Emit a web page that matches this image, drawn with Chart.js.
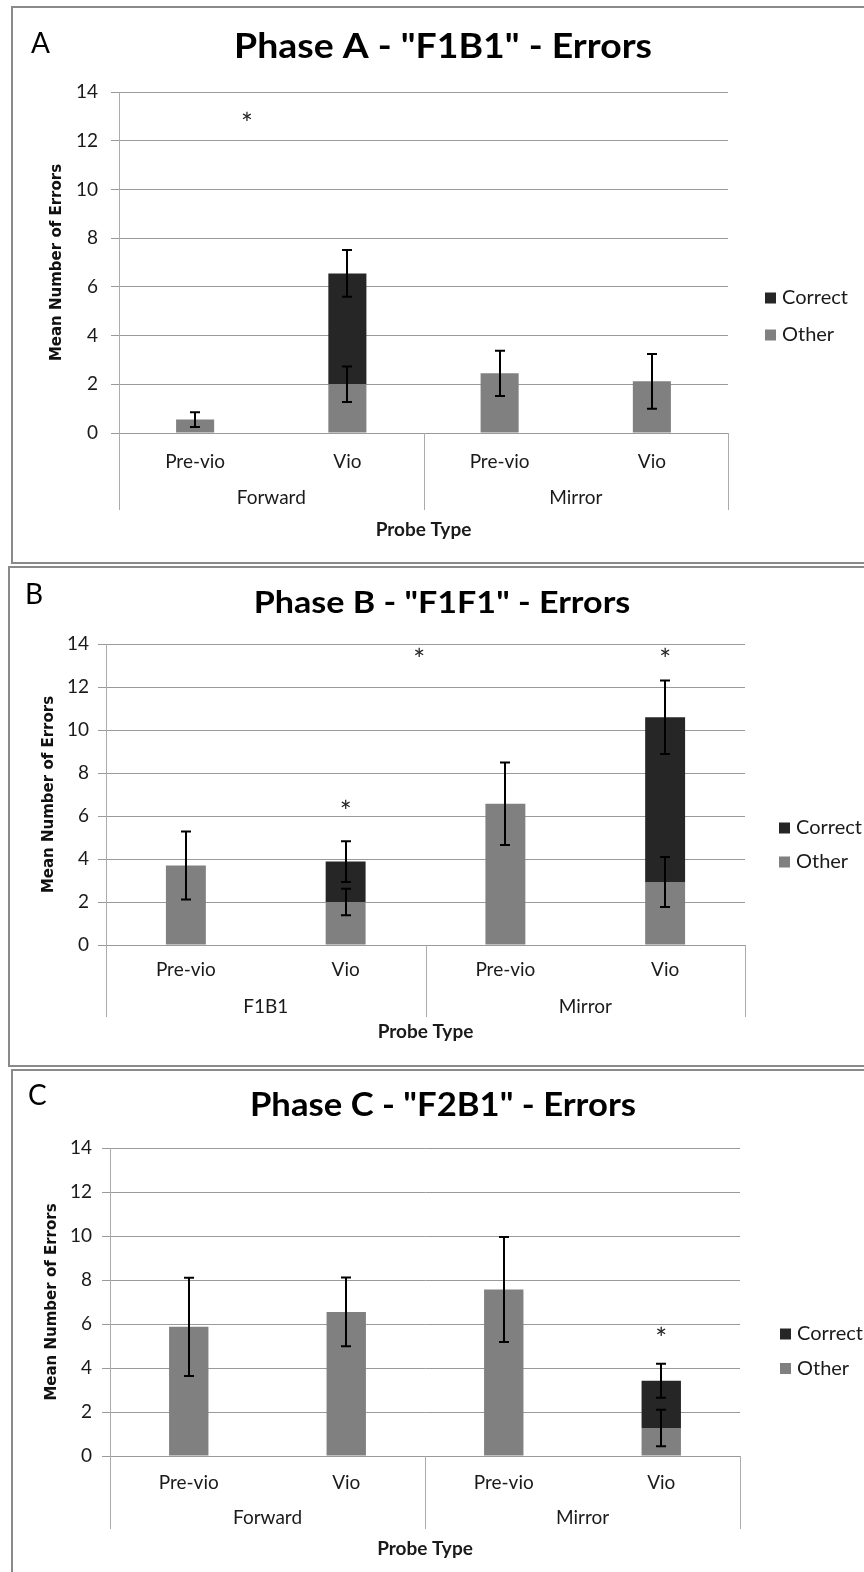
<!DOCTYPE html>
<html>
<head>
<meta charset="utf-8">
<script src="https://cdn.jsdelivr.net/npm/chart.js@4.4.1/dist/chart.umd.min.js"></script>
<style>
  html, body { margin: 0; padding: 0; background: #fff; overflow: hidden; width: 864px; height: 1572px; }
  .panel { position: absolute; border: 2px solid #8a8a8a; border-right: none; box-sizing: border-box; }
  canvas { position: absolute; left: 0; z-index: 2; }
</style>
</head>
<body>
<div class="panel" style="left:11px;top:6px;width:870px;height:558px"></div>
<div class="panel" style="left:8px;top:566px;width:870px;height:501px"></div>
<div class="panel" style="left:11px;top:1069px;width:870px;height:520px"></div>
<canvas id="chartA" width="864" height="564" style="top:0"></canvas>
<canvas id="chartB" width="864" height="503" style="top:564px"></canvas>
<canvas id="chartC" width="864" height="505" style="top:1067px"></canvas>

<script>
// shared
const categories = ['Pre-vio', 'Vio', 'Pre-vio', 'Vio'];
const yMin = 0, yMax = 14, yStep = 2;
const otherLabel = 'Other';
const correctLabel = 'Correct';

// Phase A
const titleA = 'Phase A - "F1B1" - Errors';
const groupsA = ['Forward', 'Mirror'];
const otherA = [0.55, 2.0, 2.45, 2.12];
const otherErrA = [0.3, 0.73, 0.93, 1.12];
const correctA = [null, 4.55, null, null];
const correctErrA = [null, 0.96, null, null];
const starsA = [[0.34, 12.93]];

// Phase B
const titleB = 'Phase B - "F1F1" - Errors';
const groupsB = ['F1B1', 'Mirror'];
const otherB = [3.7, 2.0, 6.57, 2.93];
const otherErrB = [1.58, 0.62, 1.92, 1.16];
const correctB = [null, 1.88, null, 7.66];
const correctErrB = [null, 0.95, null, 1.71];
const starsB = [[1.46, 13.52], [3, 13.55], [1, 6.48]];

// Phase C
const titleC = 'Phase C - "F2B1" - Errors';
const groupsC = ['Forward', 'Mirror'];
const otherC = [5.87, 6.55, 7.57, 1.27];
const otherErrC = [2.23, 1.56, 2.39, 0.83];
const correctC = [null, null, null, 2.15];
const correctErrC = [null, null, null, 0.77];
const starsC = [[3, 5.6]];

const GRID = '#9a9a9a';
const AXIS = '#ababab';
const TEXT = '#1a1a1a';
const BODY_FONT = 'Lato';

// draws error bars, title, legend, groups, dividers and asterisks
const extras = {
  id: 'extras',
  afterDatasetsDraw(chart, args, o) {
    const ctx = chart.ctx, ys = chart.scales.y;
    const sets = chart.data.datasets;
    ctx.save();
    ctx.strokeStyle = '#000';
    ctx.lineWidth = 2;
    sets.forEach((ds, i) => {
      const meta = chart.getDatasetMeta(i);
      ds.errors.forEach((e, j) => {
        if (e == null || ds.data[j] == null) return;
        let cum = 0;
        for (let k = 0; k <= i; k++) cum += sets[k].data[j] || 0;
        const x = Math.round(meta.data[j].x);
        const y1 = ys.getPixelForValue(cum + e), y2 = ys.getPixelForValue(cum - e);
        ctx.beginPath();
        ctx.moveTo(x, y1); ctx.lineTo(x, y2);
        ctx.moveTo(x - 5, y1); ctx.lineTo(x + 5, y1);
        ctx.moveTo(x - 5, y2); ctx.lineTo(x + 5, y2);
        ctx.stroke();
      });
    });
    ctx.restore();
  },
  afterDraw(chart, args, o) {
    const ctx = chart.ctx, xs = chart.scales.x, ys = chart.scales.y;
    const y0 = ys.getPixelForValue(0);
    ctx.save();

    // panel letter
    ctx.fillStyle = '#000';
    ctx.font = '28px ' + BODY_FONT;
    ctx.textAlign = 'left';
    ctx.textBaseline = 'alphabetic';
    ctx.fillText(o.letter, o.letterX, o.letterY);

    // title (stretched a little, the original face is wider)
    ctx.save();
    ctx.translate(o.titleX, o.titleY);
    ctx.scale(1.1, 1);
    ctx.font = 'bold ' + o.titleSize + 'px ' + BODY_FONT;
    ctx.textAlign = 'center';
    ctx.fillText(o.title, 0, 0);
    ctx.restore();

    // category dividers below the axis
    ctx.strokeStyle = AXIS;
    ctx.lineWidth = 1;
    [xs.left, xs.getPixelForValue(1.5), xs.right].forEach(px => {
      const x = Math.round(px) + 0.5;
      ctx.beginPath();
      ctx.moveTo(x, y0);
      ctx.lineTo(x, y0 + o.divLen);
      ctx.stroke();
    });

    // group labels
    ctx.fillStyle = TEXT;
    ctx.font = '19px ' + BODY_FONT;
    ctx.textAlign = 'center';
    ctx.textBaseline = 'middle';
    o.groups.forEach((g, i) => {
      ctx.fillText(g, xs.getPixelForValue(i * 2 + 0.5), y0 + o.groupDy);
    });

    // asterisks
    ctx.fillStyle = '#222';
    ctx.font = '28px ' + BODY_FONT;
    o.stars.forEach(s => {
      ctx.fillText('*', xs.getPixelForValue(s[0]), ys.getPixelForValue(s[1]) + 7);
    });

    // legend
    const items = chart.data.datasets.slice().reverse();
    ctx.textAlign = 'left';
    ctx.font = '20px ' + BODY_FONT;
    items.forEach((ds, i) => {
      const cy = o.legendY + i * o.legendGap;
      ctx.fillStyle = ds.backgroundColor;
      ctx.fillRect(o.legendX, cy - 5.5, 11, 11);
      ctx.fillStyle = TEXT;
      ctx.fillText(ds.label, o.legendX + 17, cy);
    });
    ctx.restore();
  }
};

function makeChart(id, h, d, p) {
  const X_H = 110;
  return new Chart(document.getElementById(id), {
    type: 'bar',
    data: {
      labels: categories,
      datasets: [
        { label: otherLabel, data: d.other, errors: d.otherErr, backgroundColor: '#808080',
          barPercentage: 0.25, categoryPercentage: 1.0 },
        { label: correctLabel, data: d.correct, errors: d.correctErr, backgroundColor: '#262626',
          barPercentage: 0.25, categoryPercentage: 1.0 }
      ]
    },
    options: {
      responsive: false,
      animation: false,
      devicePixelRatio: 1,
      layout: {
        padding: { left: 0, right: 864 - p.right, top: p.top, bottom: h - p.bottom - X_H }
      },
      plugins: {
        legend: { display: false },
        tooltip: { enabled: false },
        extras: {
          letter: d.letter, title: d.title, groups: d.groups, stars: d.stars,
          letterX: p.letterX, letterY: p.letterY, titleX: p.titleX, titleY: p.titleY, titleSize: p.titleSize,
          legendX: p.legendX, legendY: p.legendY, legendGap: p.legendGap,
          divLen: p.divLen, groupDy: p.groupDy
        }
      },
      scales: {
        x: {
          stacked: true,
          offset: true,
          grid: { display: false },
          border: { display: false },
          ticks: { color: TEXT, font: { family: BODY_FONT, size: 19 }, padding: p.xTickPad,
                   maxRotation: 0, autoSkip: false },
          title: { display: true, text: 'Probe Type', color: TEXT,
                   font: { family: BODY_FONT, size: 19, weight: 'bold' },
                   padding: { top: 0, bottom: p.xTitlePad } },
          afterFit: s => { s.height = X_H; }
        },
        y: {
          stacked: true,
          min: yMin, max: yMax,
          ticks: { stepSize: yStep, color: TEXT, font: { family: BODY_FONT, size: 19 }, padding: p.yTickPad },
          grid: { color: GRID, lineWidth: 1, tickLength: 8 },
          border: { color: AXIS, width: 1 },
          title: { display: true, text: 'Mean Number of Errors', color: '#111',
                   font: { family: 'DejaVu Sans', size: 15, weight: 'bold' },
                   padding: { top: p.yTitlePad, bottom: 0 } },
          afterFit: s => { s.width = p.left; }
        }
      }
    },
    plugins: [extras]
  });
}

makeChart('chartA', 564,
  { letter: 'A', title: titleA, groups: groupsA, stars: starsA,
    other: otherA, otherErr: otherErrA, correct: correctA, correctErr: correctErrA },
  { left: 119, right: 728, top: 92, bottom: 433, letterX: 31, letterY: 53,
    titleX: 443, titleY: 58, titleSize: 34,
    legendX: 765, legendY: 298, legendGap: 37, divLen: 77, groupDy: 65,
    xTickPad: 9.5, xTitlePad: 2, yTickPad: 13, yTitlePad: 48 });

makeChart('chartB', 503,
  { letter: 'B', title: titleB, groups: groupsB, stars: starsB,
    other: otherB, otherErr: otherErrB, correct: correctB, correctErr: correctErrB },
  { left: 106, right: 745, top: 80, bottom: 381, letterX: 25, letterY: 40,
    titleX: 442, titleY: 48.5, titleSize: 31,
    legendX: 779, legendY: 264, legendGap: 34, divLen: 72, groupDy: 61.6,
    xTickPad: 5.5, xTitlePad: 12, yTickPad: 9, yTitlePad: 40 });

makeChart('chartC', 505,
  { letter: 'C', title: titleC, groups: groupsC, stars: starsC,
    other: otherC, otherErr: otherErrC, correct: correctC, correctErr: correctErrC },
  { left: 110, right: 740, top: 81, bottom: 389, letterX: 28, letterY: 38,
    titleX: 443, titleY: 48.5, titleSize: 31.5,
    legendX: 780, legendY: 267, legendGap: 34.5, divLen: 73, groupDy: 62,
    xTickPad: 7, xTitlePad: 5.6, yTickPad: 10, yTitlePad: 43 });
</script>
</body>
</html>
